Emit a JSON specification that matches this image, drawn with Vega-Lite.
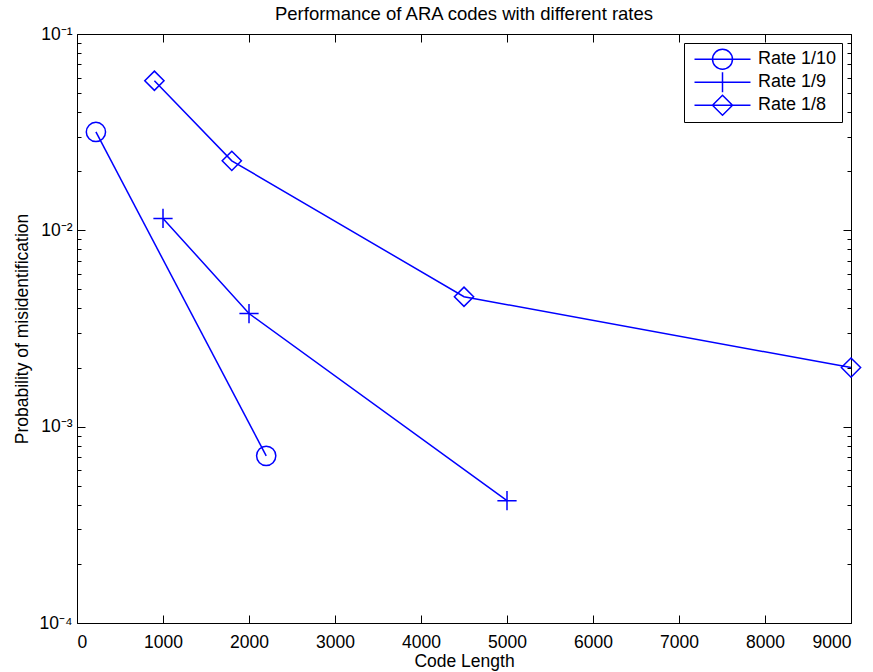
{
  "$schema": "https://vega.github.io/schema/vega-lite/v6.json",
  "width": 774,
  "height": 589,
  "autosize": {"type": "none"},
  "padding": {"left": 77, "top": 34, "right": 22, "bottom": 49},
  "background": "white",
  "config": {
    "font": "Liberation Sans",
    "view": {"stroke": "black", "strokeWidth": 1},
    "axis": {
      "grid": false,
      "domain": false,
      "labelFont": "Liberation Sans",
      "labelFontSize": 17.5,
      "labelColor": "black",
      "tickColor": "black",
      "tickWidth": 1,
      "titleFont": "Liberation Sans",
      "titleFontSize": 17.5,
      "titleFontWeight": "normal",
      "titleColor": "black"
    }
  },
  "title": {
    "text": "Performance of ARA codes with different rates",
    "font": "Liberation Sans",
    "fontSize": 18.5,
    "fontWeight": "normal",
    "color": "black",
    "anchor": "middle",
    "offset": 2
  },
  "data": {
    "values": [
      {"series": "Rate 1/10", "len": 220, "p": 0.0317},
      {"series": "Rate 1/10", "len": 2200, "p": 0.00071},
      {"series": "Rate 1/9", "len": 1000, "p": 0.0115},
      {"series": "Rate 1/9", "len": 2000, "p": 0.00377},
      {"series": "Rate 1/9", "len": 5000, "p": 0.00042},
      {"series": "Rate 1/8", "len": 900, "p": 0.0578},
      {"series": "Rate 1/8", "len": 1800, "p": 0.0226},
      {"series": "Rate 1/8", "len": 4500, "p": 0.00459},
      {"series": "Rate 1/8", "len": 9000, "p": 0.002}
    ]
  },
  "layer": [
    {
      "mark": {"type": "line", "color": "#0000ff", "strokeWidth": 1.5},
      "encoding": {
        "x": {
          "field": "len", "type": "quantitative",
          "scale": {"domain": [0, 9000], "nice": false, "zero": false},
          "axis": {"orient": "bottom", "values": [0, 1000, 2000, 3000, 4000, 5000, 6000, 7000, 8000, 9000], "format": "d", "tickSize": -8, "labelPadding": 18, "title": "Code Length", "titlePadding": 2}
        },
        "y": {
          "field": "p", "type": "quantitative",
          "scale": {"type": "log", "domain": [0.0001, 0.1], "nice": false},
          "axis": {"orient": "left", "values": [0.0001, 0.001, 0.01, 0.1], "tickSize": -8, "labelPadding": 13,
            "labelExpr": "datum.value < 0.0005 ? '10⁻⁴' : datum.value < 0.005 ? '10⁻³' : datum.value < 0.05 ? '10⁻²' : '10⁻¹'",
            "title": "Probability of misidentification", "titlePadding": 8}
        },
        "detail": {"field": "series"}
      }
    },
    {
      "mark": {"type": "point", "color": "#0000ff", "filled": false, "strokeWidth": 1.5, "size": 370, "opacity": 1},
      "encoding": {
        "x": {
          "field": "len", "type": "quantitative",
          "axis": {"orient": "top", "values": [0, 1000, 2000, 3000, 4000, 5000, 6000, 7000, 8000, 9000], "tickSize": -8, "labels": false, "title": null}
        },
        "y": {
          "field": "p", "type": "quantitative",
          "axis": {"orient": "right", "values": [0.0001, 0.001, 0.01, 0.1], "tickSize": -8, "labels": false, "title": null}
        },
        "shape": {
          "field": "series", "type": "nominal",
          "scale": {"domain": ["Rate 1/10", "Rate 1/9", "Rate 1/8"], "range": ["circle", "M-1,0H1M0,-1V1", "M0,-1L1,0L0,1L-1,0Z"]},
          "legend": null
        }
      }
    },
    {
      "mark": {"type": "point", "opacity": 0},
      "encoding": {
        "x": {"field": "len", "type": "quantitative", "axis": null},
        "y": {
          "field": "p", "type": "quantitative",
          "axis": {"orient": "left", "values": [0.0002, 0.0003, 0.0004, 0.0005, 0.0006, 0.0007, 0.0008, 0.0009, 0.002, 0.003, 0.004, 0.005, 0.006, 0.007, 0.008, 0.009, 0.02, 0.03, 0.04, 0.05, 0.06, 0.07, 0.08, 0.09], "tickSize": -4, "labels": false, "title": null}
        }
      }
    },
    {
      "mark": {"type": "point", "opacity": 0},
      "encoding": {
        "x": {"field": "len", "type": "quantitative", "axis": null},
        "y": {
          "field": "p", "type": "quantitative",
          "axis": {"orient": "right", "values": [0.0002, 0.0003, 0.0004, 0.0005, 0.0006, 0.0007, 0.0008, 0.0009, 0.002, 0.003, 0.004, 0.005, 0.006, 0.007, 0.008, 0.009, 0.02, 0.03, 0.04, 0.05, 0.06, 0.07, 0.08, 0.09], "tickSize": -4, "labels": false, "title": null}
        }
      }
    },
    {
      "transform": [{"filter": "datum.len < 0"}],
      "mark": {"type": "point", "color": "#0000ff", "filled": false, "strokeWidth": 1.5, "size": 400, "opacity": 1},
      "encoding": {
        "x": {"field": "len", "type": "quantitative", "axis": null},
        "y": {"field": "p", "type": "quantitative", "axis": null},
        "shape": {
          "field": "series", "type": "nominal",
          "scale": {"domain": ["Rate 1/10", "Rate 1/9", "Rate 1/8"], "range": ["M-2.8,0H2.8M-1,0A1,1 0 1,1 1,0A1,1 0 1,1 -1,0", "M-2.8,0H2.8M0,-1V1", "M-2.8,0H2.8M0,-1L1,0L0,1L-1,0Z"]},
          "legend": {
            "title": null,
            "orient": "top-right",
            "offset": 9,
            "strokeColor": "black",
            "fillColor": "white",
            "padding": 5,
            "labelFont": "Liberation Sans",
            "labelFontSize": 18,
            "labelColor": "black",
            "symbolSize": 400,
            "symbolStrokeColor": "#0000ff",
            "symbolFillColor": "transparent",
            "symbolStrokeWidth": 1.5,
            "symbolOpacity": 1,
            "symbolOffset": 22.5,
            "labelOffset": 24.5,
            "rowPadding": 0,
            "clipHeight": 22.5
          }
        }
      }
    }
  ],
  "resolve": {"axis": {"x": "independent", "y": "independent"}, "scale": {"shape": "independent"}}
}
